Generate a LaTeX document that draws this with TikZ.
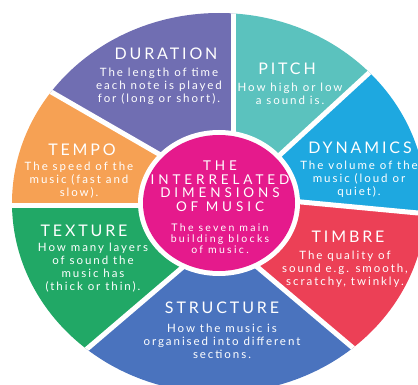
\documentclass[tikz,border=0pt]{standalone}
\usepackage{fontspec}
\setmainfont{Lato}
\newfontfamily\capsfont[LetterSpace=18]{Lato}
\newfontfamily\midcapsfont[LetterSpace=29]{Lato}
\newfontfamily\bodyfont[LetterSpace=17]{Lato}
\newfontfamily\midbodyfont[LetterSpace=22]{Lato}
\usepackage{tikz}
\definecolor{Dur}{RGB}{112,110,178}
\definecolor{Pit}{RGB}{91,194,190}
\definecolor{Dyn}{RGB}{30,168,224}
\definecolor{Tim}{RGB}{236,64,86}
\definecolor{Str}{RGB}{74,115,190}
\definecolor{Tex}{RGB}{33,168,102}
\definecolor{Tem}{RGB}{246,161,84}
\definecolor{Mid}{RGB}{229,26,140}
\newcommand{\musicwedge}[3]{\fill[#1] (i#2)--(o#2)--(o#3)--(i#3)--(C)--cycle;}
\newcommand{\drawgap}{\draw[white, line width=5pt]}
\tikzset{
  dimtitle/.style={text=white, inner sep=0pt, font=\capsfont\fontsize{16}{18}\selectfont},
  dimtext/.style={text=white, inner sep=0pt, align=center, font=\bodyfont\fontsize{11.5}{13}\selectfont},
}

\begin{document}
\begin{tikzpicture}[x=1pt,y=-1pt]
\useasboundingbox (0,0) rectangle (418,385);
\coordinate (C) at (219,203);
% ends of the white gaps, inner and outer
\coordinate (i1) at (233.5,150);  \coordinate (o1) at (233.5,-30);
\coordinate (i2) at (265.6,168);  \coordinate (o2) at (413.5,32);
\coordinate (i3) at (280,200);    \coordinate (o3) at (450,216);
\coordinate (i4) at (236,249);    \coordinate (o4) at (443,424);
\coordinate (i5) at (204,249);    \coordinate (o5) at (-1,424);
\coordinate (i6) at (160,205.5);  \coordinate (o6) at (-30,205.5);
\coordinate (i7) at (177,164.5);  \coordinate (o7) at (-51,33);
\begin{scope}
  \clip (C) ellipse [x radius=207, y radius=190];
  \musicwedge{Pit}{1}{2}
  \musicwedge{Dyn}{2}{3}
  \musicwedge{Tim}{3}{4}
  \musicwedge{Str}{4}{5}
  \musicwedge{Tex}{5}{6}
  \musicwedge{Tem}{6}{7}
  \musicwedge{Dur}{7}{1}
  \foreach \k in {1,...,7}{
    \drawgap (i\k)--(o\k);
  }
\end{scope}
\fill[white] (C) ellipse [x radius=81, y radius=73];
\fill[Mid] (C) ellipse [x radius=76, y radius=68];

\node[dimtitle] (durT) at (166,54) {DURATION};
\node[dimtext] (durB) at (159,86) {The length of time\\each note is played\\for (long or short).};
\node[dimtitle] (pitT) at (287,68.5) {PITCH};
\node[dimtext] (pitB) at (290,93.5) {How high or low\\a sound is.};
\node[dimtitle] (dynT) at (360,147.5) {DYNAMICS};
\node[dimtext] (dynB) at (359,179.5) {The volume of the\\music (loud or\\quiet).};
\node[dimtitle] (timT) at (348,236.5) {TIMBRE};
\node[dimtext] (timB) at (345,269.5) {The quality of\\sound e.g. smooth,\\scratchy, twinkly.};
\node[dimtitle] (strT) at (222,308) {STRUCTURE};
\node[dimtext] (strB) at (222,341) {How the music is\\organised into different\\sections.};
\node[dimtitle] (texT) at (84,231) {TEXTURE};
\node[dimtext] (texB) at (93,267.5) {How many layers\\of sound the\\music has\\(thick or thin).};
\node[dimtitle] (temT) at (82,149.5) {TEMPO};
\node[dimtext] (temB) at (79,180.5) {The speed of the\\music (fast and\\slow).};
\node[dimtitle, align=center, font=\midcapsfont\fontsize{13.5}{13.5}\selectfont] (midT) at (220,186) {THE\\INTERRELATED\\DIMENSIONS\\OF MUSIC};
\node[dimtext, font=\midbodyfont\fontsize{10.5}{11}\selectfont] (midB) at (220,238.5) {The seven main\\building blocks\\of music.};
\end{tikzpicture}
\end{document}
